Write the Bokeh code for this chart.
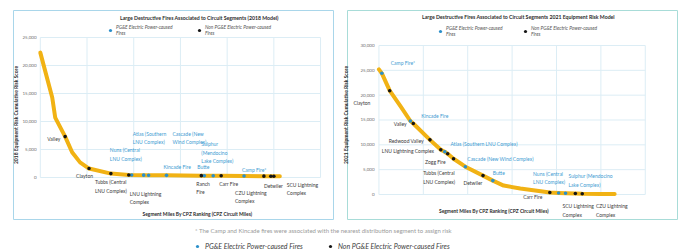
from bokeh.plotting import figure
from bokeh.models import (ColumnDataSource, LabelSet, Legend, LegendItem,
                          FixedTicker, NumeralTickFormatter, Range1d, Spacer)
from bokeh.layouts import row, column
from bokeh.embed import file_html
from bokeh.resources import INLINE
from bokeh.core.properties import value

FONT = "Lato"
GOLD = "#f1b214"
BLUE = "#2a8fca"
BLUE_TXT = "#3d9bd2"
BLACK = "#151515"
TXT = "#3a3a3a"
GRID = "#dcedf5"

# ---------------- data: 2018 model ----------------
curve18_miles = [0, 255, 319, 532, 681, 851, 1043, 1511, 1894, 2319, 2702, 3447, 3872, 4362, 4787, 5128]
curve18_risk = [22300, 14300, 10700, 7300, 4500, 2700, 1600, 700, 450, 410, 380, 330, 300, 270, 240, 220]

pge18_fires = ["Nuns", "Atlas", "Cascade", "Kincade", "Butte", "Sulphur", "Camp"]
pge18_miles = [1957, 2213, 2319, 2702, 3511, 3702, 4362]
pge18_risk = [440, 420, 410, 380, 320, 310, 270]

non18_fires = ["Valley", "Clayton", "Tubbs", "LNU Lightning", "Ranch", "Carr", "CZU", "Detwiler", "SCU"]
non18_miles = [532, 1043, 1511, 1894, 3447, 3872, 4787, 4936, 5000]
non18_risk = [7300, 1600, 700, 450, 330, 300, 240, 230, 225]

lab18_pge_text = ["Nuns (Central\nLNU Complex)", "Atlas (Southern\nLNU Complex)", "Cascade (New\nWind Complex)",
                  "Kincade Fire", "Butte", "Sulphur\n(Mendocino\nLake Complex)", "Camp Fire*"]
lab18_pge_x = [1489, 1979, 2830, 2638, 3362, 3447, 4319]
lab18_pge_y = [4107, 7054, 7054, 1786, 1786, 4464, 1250]

lab18_non_text = ["Valley", "Clayton", "Tubbs (Central\nLNU Complex)", "LNU Lightning\nComplex", "Ranch\nFire",
                  "Carr Fire", "CZU Lightning\nComplex", "Detwiler", "SCU Lightning\nComplex"]
lab18_non_x = [149, 766, 1170, 1915, 3340, 3830, 4170, 4787, 5277]
lab18_non_y = [6964, 179, -1607, -3661, -1875, -1250, -3482, -1607, -2054]

# ---------------- data: 2021 model ----------------
curve21_miles = [0, 66, 243, 500, 708, 774, 1150, 1394, 1482, 1549, 1681, 1947, 2345, 2566, 2810, 3186,
                 3850, 4049, 4204, 4425, 4580, 5000, 5310]
curve21_risk = [25200, 24400, 20900, 17600, 14800, 14300, 11000, 9000, 8600, 8200, 7200, 5600, 3800, 2800,
                1800, 1200, 400, 300, 250, 200, 150, 120, 100]

pge21_fires = ["Camp", "Kincade", "Atlas", "Cascade", "Butte", "Nuns", "Sulphur"]
pge21_miles = [66, 708, 1482, 1947, 2566, 4049, 4204]
pge21_risk = [24400, 14800, 8600, 5600, 2800, 300, 250]

non21_fires = ["Clayton", "Valley", "Redwood Valley", "LNU Lightning", "Tubbs", "Zogg", "Detwiler", "Carr", "SCU", "CZU"]
non21_miles = [243, 774, 1150, 1394, 1549, 1681, 2345, 3850, 4425, 4580]
non21_risk = [20900, 14300, 11000, 9000, 8200, 7200, 3800, 400, 200, 150]

lab21_pge_text = ["Camp Fire*", "Kincade Fire", "Atlas (Southern LNU Complex)", "Cascade (New Wind Complex)",
                  "Butte", "Nuns (Central\nLNU Complex)", "Sulphur (Mendocino\nLake Complex)"]
lab21_pge_x = [265, 951, 1615, 1991, 2566, 3473, 4270]
lab21_pge_y = [26376, 15705, 10067, 7047, 4228, 3322, 2819]

lab21_non_text = ["Clayton", "Valley", "Redwood Valley", "LNU Lightning Complex", "Zogg Fire",
                  "Tubbs (Central\nLNU Complex)", "Detwiler", "Carr Fire", "SCU Lightning\nComplex",
                  "CZU Lightning\nComplex"]
lab21_non_x = [-575, 332, 221, 66, 1040, 996, 1903, 3252, 4137, 4889]
lab21_non_y = [18322, 14295, 10872, 8658, 6443, 3423, 2215, -604, -3221, -3221]

x_ticks = [0, 1000, 2000, 3000, 4000, 5000, 6000]
x_title = "Segment Miles By CPZ Ranking (CPZ Circuit Miles)"
title18 = "Large Destructive Fires Associated to Circuit Segments (2018 Model)"
title21 = "Large Destructive Fires Associated to Circuit Segments 2021 Equipment Risk Model"
title18_pos = (3404, 28571)
title21_pos = (3142, 35638)
xtitle18_pos = (3362, -6429)
xtitle21_pos = (2588, -3423)
footnote = "* The Camp and Kincade fires were associated with the nearest distribution segment to assign risk"
legend_pge = "PG&E Electric Power-caused Fires"
legend_non = "Non PG&E Electric Power-caused Fires"


def panel(title_text, title_pos, xtitle_pos, ylabel, width, height, xr, yr, ymax, border,
          ytick_standoff, ylab_standoff,
          cx, cy, px, py, nx, ny, lpt, lpx, lpy, lnt, lnx, lny, leg_loc, leg_lw):
    p = figure(width=width, height=height, x_range=Range1d(*xr), y_range=Range1d(*yr),
               output_backend="svg", toolbar_location=None, title=None, min_border=1,
               outline_line_color=border, outline_line_width=1,
               border_fill_color="white", background_fill_color="white")
    p.grid.visible = False
    p.xaxis.visible = False
    y_ticks = list(range(0, ymax + 1, 5000))
    # grid lines restricted to the data area
    p.segment(x0=x_ticks, y0=[0] * len(x_ticks), x1=x_ticks, y1=[ymax] * len(x_ticks),
              line_color=GRID, line_width=1)
    p.segment(x0=[0] * len(y_ticks), y0=y_ticks, x1=[x_ticks[-1]] * len(y_ticks), y1=y_ticks,
              line_color=GRID, line_width=1)

    ax = p.yaxis[0]
    ax.axis_line_color = None
    ax.major_tick_line_color = None
    ax.minor_tick_line_color = None
    ax.major_tick_out = 0
    ax.major_tick_in = 0
    ax.axis_label_text_font = FONT
    ax.axis_label_text_font_style = "bold"
    ax.axis_label_text_font_size = "5px"
    ax.axis_label_text_color = "#2b2b2b"
    ax.major_label_text_font = FONT
    ax.major_label_text_font_size = "4.5px"
    ax.major_label_text_color = "#707070"
    ax.ticker = FixedTicker(ticks=y_ticks)
    ax.formatter = NumeralTickFormatter(format="0,0")
    ax.bounds = (0, ymax)
    ax.axis_label = ylabel
    ax.major_label_standoff = ytick_standoff
    ax.axis_label_standoff = ylab_standoff

    p.text(x=[title_pos[0]], y=[title_pos[1]], text=[title_text], text_font=value(FONT),
           text_font_size="5.2px", text_font_style="bold", text_color="#2b2b2b",
           text_align="center", text_baseline="middle")
    p.text(x=[xtitle_pos[0]], y=[xtitle_pos[1]], text=[x_title], text_font=value(FONT),
           text_font_size="4.9px", text_font_style="bold", text_color="#2b2b2b",
           text_align="center", text_baseline="middle")

    p.line(cx, cy, line_color=GOLD, line_width=4, line_cap="round", line_join="round")
    pr = p.scatter(px, py, size=3.6, marker="circle", fill_color=BLUE, line_color=None)
    nr = p.scatter(nx, ny, size=3.6, marker="circle", fill_color=BLACK, line_color=None)

    for t, x, y, col in ((lpt, lpx, lpy, BLUE_TXT), (lnt, lnx, lny, TXT)):
        src = ColumnDataSource(dict(x=x, y=y, t=t))
        p.add_layout(LabelSet(x="x", y="y", text="t", source=src, text_font=value(FONT),
                              text_font_size="5px", text_color=col, text_align="left",
                              text_baseline="middle", text_line_height=1.35))

    leg = Legend(items=[LegendItem(label="PG&E Electric Power-caused\nFires", renderers=[pr]),
                        LegendItem(label="Non PG&E Electric Power-caused\nFires", renderers=[nr])],
                 location=leg_loc, orientation="horizontal", background_fill_alpha=0,
                 border_line_color=None, label_text_font=FONT, label_text_font_size="4.8px",
                 label_text_font_style="italic", label_text_color="#555555", glyph_width=8,
                 glyph_height=8, label_standoff=2, padding=0, margin=0, spacing=4,
                 label_width=leg_lw, label_height=8, label_text_line_height=1.3)
    p.add_layout(leg)
    return p


p1 = panel(title18, title18_pos, xtitle18_pos, "2018 Equipment Risk Cumulative Risk Score", 324, 211,
           (-574, 6277), (-7500, 29821), 25000, "#a9d6ea", -23, 0,
           curve18_miles, curve18_risk, pge18_miles, pge18_risk, non18_miles, non18_risk,
           lab18_pge_text, lab18_pge_x, lab18_pge_y, lab18_non_text, lab18_non_x, lab18_non_y,
           (93, 183), 75)

p2 = panel(title21, title21_pos, xtitle21_pos, "2021 Equipment Risk Cumulative Risk Score", 338, 211,
           (-708, 6726), (-5034, 37047), 30000, "#a8dcd8", -27, 8,
           curve21_miles, curve21_risk, pge21_miles, pge21_risk, non21_miles, non21_risk,
           lab21_pge_text, lab21_pge_x, lab21_pge_y, lab21_non_text, lab21_non_x, lab21_non_y,
           (89, 182), 71)

p3 = figure(width=698, height=32, x_range=Range1d(0, 698), y_range=Range1d(0, 32), output_backend="svg",
            toolbar_location=None, min_border=0, outline_line_color=None)
p3.xaxis.visible = False
p3.yaxis.visible = False
p3.grid.visible = False
p3.text(x=[323], y=[22], text=[footnote], text_font=value(FONT), text_font_size="6px",
        text_color="#9a9a9a", text_align="center", text_baseline="middle")
# legend-only renderers (their points lie outside this strip's ranges)
r_b = p3.scatter(pge18_miles, pge18_risk, size=4, marker="circle", fill_color=BLUE, line_color=None)
r_k = p3.scatter(non18_miles, non18_risk, size=4, marker="circle", fill_color=BLACK, line_color=None)
leg3 = Legend(items=[LegendItem(label=legend_pge, renderers=[r_b]), LegendItem(label=legend_non, renderers=[r_k])],
              location=(193, 2), orientation="horizontal", background_fill_alpha=0, border_line_color=None,
              label_text_font=FONT, label_text_font_size="7px", label_text_font_style="italic",
              label_text_color="#404040", glyph_width=8, glyph_height=8, label_standoff=4, padding=0,
              margin=0, spacing=9, label_width=112, label_height=9)
p3.add_layout(leg3)

layout = column(Spacer(height=9),
                row(Spacer(width=10), p1, Spacer(width=6), p2),
                p3)

open("out.html", "w").write(file_html(layout, INLINE))
